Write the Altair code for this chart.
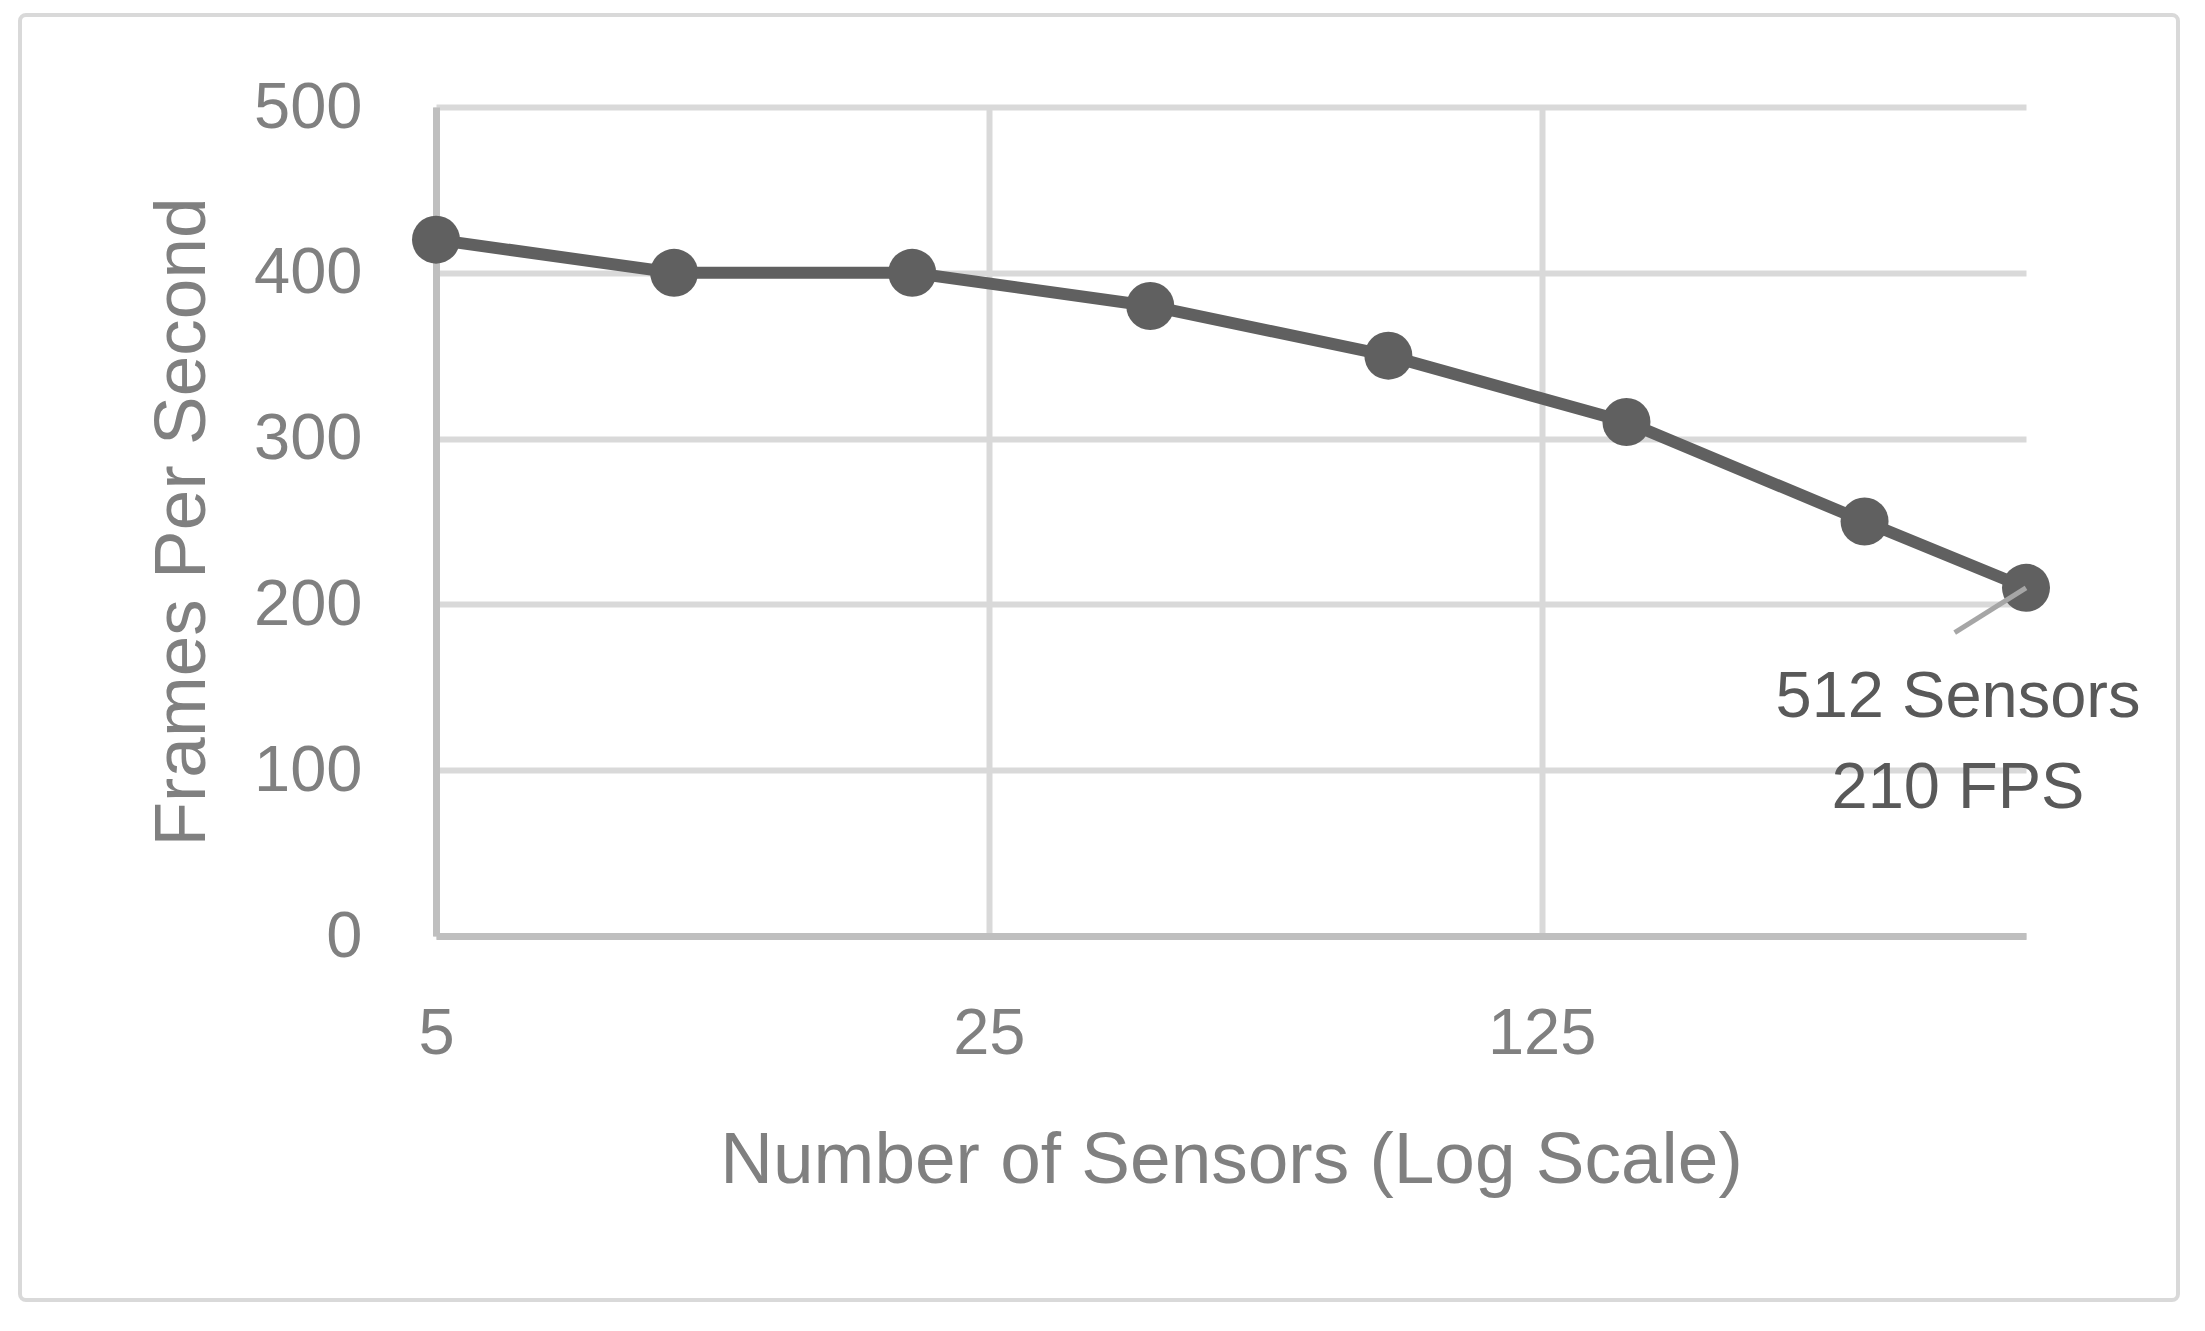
import altair as alt
import pandas as pd

# ---- data ----
sensors = [5, 10, 20, 40, 80, 160, 320, 512]
fps = [420, 400, 400, 380, 350, 310, 250, 210]
x_ticks = [5, 25, 125]
y_ticks = [0, 100, 200, 300, 400, 500]
x_domain = [5, 512]
y_domain = [0, 500]
note_point = [512, 210]
note_leader_end = [416, 183]
note_text = "512 Sensors\n210 FPS"

FONT = "Liberation Sans"
GREY_TXT = "#808080"
SERIES = "#606060"

df = pd.DataFrame({"sensors": sensors, "fps": fps})
lead_df = pd.DataFrame({
    "sensors": [note_point[0]], "fps": [note_point[1]],
    "sensors2": [note_leader_end[0]], "fps2": [note_leader_end[1]],
})
note_df = pd.DataFrame({"sensors": [note_point[0]], "fps": [note_point[1]], "label": [note_text]})

xscale = alt.Scale(type="log", base=5, domain=x_domain, nice=False)
yscale = alt.Scale(domain=y_domain, nice=False, zero=True)

xaxis = alt.Axis(
    values=x_ticks, format="d", title="Number of Sensors (Log Scale)",
    grid=True, ticks=False, tickSize=0, labelFlush=False, labelOverlap=False,
    labelPadding=117, labelBaseline="alphabetic",
    titleX=795, titleY=246, titleBaseline="alphabetic", titleAlign="center",
)
yaxis = alt.Axis(
    values=y_ticks, title="Frames Per Second",
    grid=True, ticks=False, tickSize=0, labelPadding=74, labelBaseline="middle",
    titleX=-232, titleY=414.5, titleBaseline="alphabetic", titleAlign="center",
)

X = alt.X("sensors:Q", scale=xscale, axis=xaxis)
Y = alt.Y("fps:Q", scale=yscale, axis=yaxis)

border = alt.Chart(alt.Data(values=[{"a": 1}])).mark_rect(
    filled=False, stroke="#d9d9d9", strokeWidth=4, cornerRadius=6
).encode(
    x=alt.value(-416), x2=alt.value(1742), y=alt.value(-92), y2=alt.value(1193)
)

line = alt.Chart(df).mark_line(color=SERIES, strokeWidth=12).encode(x=X, y=Y)
points = alt.Chart(df).mark_circle(color=SERIES, size=2304, opacity=1).encode(x=X, y=Y)
leader = alt.Chart(lead_df).mark_rule(color="#a6a6a6", strokeWidth=5).encode(
    x=X, y=Y, x2="sensors2:Q", y2="fps2:Q"
)
note = alt.Chart(note_df).mark_text(
    align="center", baseline="alphabetic", dx=-68, dy=129,
    fontSize=65, font=FONT, color="#595959", lineBreak="\n", lineHeight=91,
).encode(x=X, y=Y, text="label:N")

chart = alt.layer(border, line, points, leader, note).properties(
    width=1590, height=829,
    autosize=alt.AutoSizeParams(type="none"),
    padding={"left": 428, "top": 99, "right": 170, "bottom": 380},
    background="white",
).configure_view(stroke=None).configure_axis(
    domainColor="#bfbfbf", domainWidth=7,
    gridColor="#d9d9d9", gridWidth=6,
    labelFont=FONT, labelFontSize=65, labelColor=GREY_TXT,
    titleFont=FONT, titleFontSize=73, titleColor=GREY_TXT, titleFontWeight="normal",
)

chart.save("out.html", embed_options={"renderer": "svg", "actions": False})
